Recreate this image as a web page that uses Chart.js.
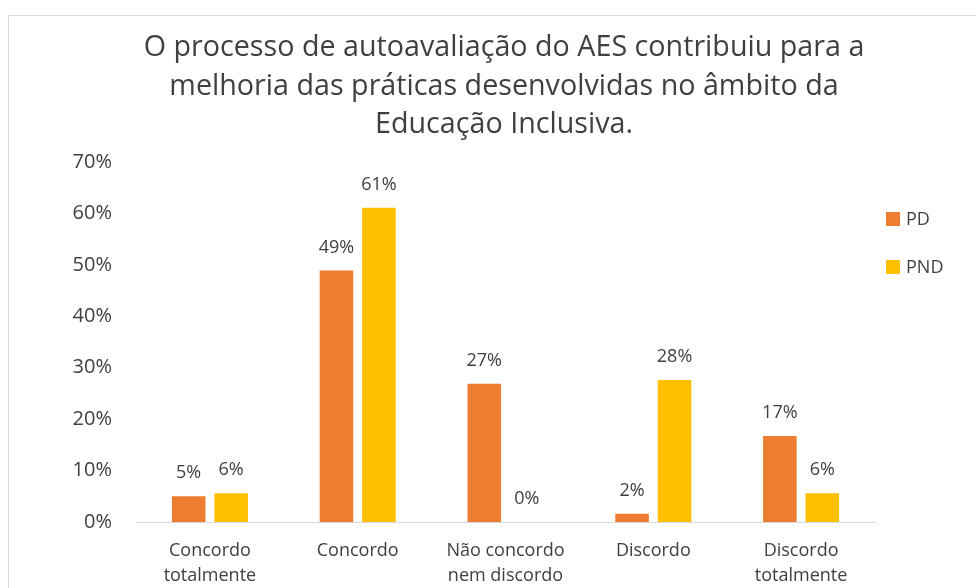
<!DOCTYPE html>
<html>
<head>
<meta charset="utf-8">
<script src="https://cdn.jsdelivr.net/npm/chart.js@4/dist/chart.umd.min.js"></script>
<style>
  html, body { margin: 0; padding: 0; background: #fff; }
  #wrap { position: relative; width: 976px; height: 588px; overflow: hidden; }
  #frame { position: absolute; left: 8px; top: 15px; width: 1000px; height: 600px;
           border-left: 1px solid #d9d9d9; border-top: 1px solid #d9d9d9; }
  canvas { position: absolute; left: 0; top: 0; }
</style>
</head>
<body>
<div id="wrap">
  <div id="frame"></div>
  <canvas id="c" width="976" height="588"></canvas>
</div>
<script>
const titleLines = [
  "O processo de autoavaliação do AES contribuiu para a",
  "melhoria das práticas desenvolvidas no âmbito da",
  "Educação Inclusiva."
];
const categories = [
  ["Concordo", "totalmente"],
  "Concordo",
  ["Não concordo", "nem discordo"],
  "Discordo",
  ["Discordo", "totalmente"]
];
const seriesNames = ["PD", "PND"];
const pdValues = [5.0, 48.9, 26.9, 1.6, 16.7];
const pndValues = [5.6, 61.1, 0, 27.6, 5.6];
const yTicks = [0, 10, 20, 30, 40, 50, 60, 70];
const colors = ["#ED7D31", "#FFC000"];

const FONT = "'Open Sans', Lato, sans-serif";
const TEXT = "#404040";

const overlay = {
  id: "overlay",
  afterDatasetsDraw(chart) {
    const ctx = chart.ctx;
    ctx.save();
    // data labels
    ctx.font = "18px " + FONT;
    ctx.fillStyle = TEXT;
    ctx.textAlign = "center";
    ctx.textBaseline = "alphabetic";
    chart.data.datasets.forEach((ds, i) => {
      const meta = chart.getDatasetMeta(i);
      meta.data.forEach((bar, j) => {
        const v = ds.data[j];
        ctx.fillText(Math.round(v) + "%", bar.x, bar.y - 18);
      });
    });
    // title
    ctx.font = "28.7px " + FONT;
    ctx.fillStyle = TEXT;
    ctx.textAlign = "center";
    ctx.textBaseline = "middle";
    titleLines.forEach((t, k) => ctx.fillText(t, 504, 48 + k * 38.5));
    // legend
    ctx.font = "18px " + FONT;
    ctx.textAlign = "left";
    chart.data.datasets.forEach((ds, i) => {
      const y = 212 + i * 48;
      ctx.fillStyle = ds.backgroundColor;
      ctx.fillRect(886, y, 14, 14);
      ctx.fillStyle = TEXT;
      ctx.fillText(ds.label, 906, y + 7.5);
    });
    ctx.restore();
  }
};

new Chart(document.getElementById("c"), {
  type: "bar",
  data: {
    labels: categories,
    datasets: [
      { label: seriesNames[0], data: pdValues, backgroundColor: colors[0] },
      { label: seriesNames[1], data: pndValues, backgroundColor: colors[1] }
    ]
  },
  options: {
    responsive: false,
    animation: false,
    devicePixelRatio: 1,
    layout: { padding: { left: 0, right: 101, top: 162, bottom: 0 } },
    datasets: { bar: { categoryPercentage: 0.575, barPercentage: 0.79 } },
    plugins: { legend: { display: false }, title: { display: false }, tooltip: { enabled: false } },
    scales: {
      x: {
        grid: { display: false, drawTicks: false },
        border: { display: true, color: "#d9d9d9", width: 1 },
        ticks: { color: TEXT, font: { family: FONT, size: 18, lineHeight: 1.39 }, padding: 16, maxRotation: 0, autoSkip: false },
        afterFit(s) { s.height = 66; }
      },
      y: {
        min: 0, max: 70,
        afterBuildTicks(s) { s.ticks = yTicks.map(v => ({ value: v })); },
        grid: { display: false, drawTicks: false },
        border: { display: false },
        ticks: { color: TEXT, font: { family: FONT, size: 20 }, padding: 24, callback: v => v + "%" },
        afterFit(s) { s.width = 136; }
      }
    }
  },
  plugins: [overlay]
});
</script>
</body>
</html>
